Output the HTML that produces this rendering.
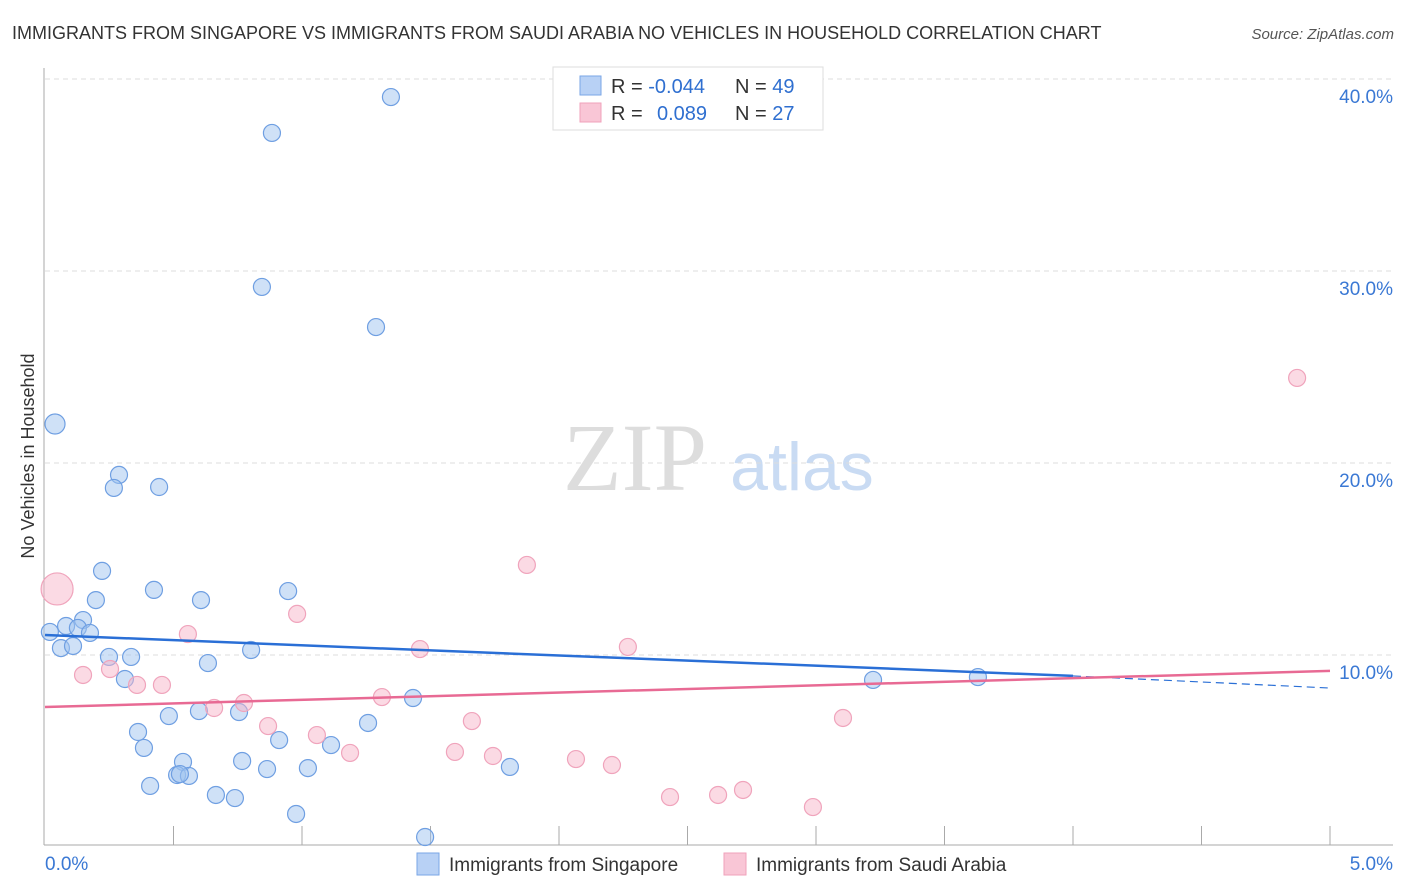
<!DOCTYPE html>
<html><head><meta charset="utf-8"><style>
body{margin:0;background:#fff;font-family:"Liberation Sans",sans-serif;}
svg{display:block}
</style></head><body>
<svg id="c" width="1406" height="892">
<text x="12" y="39" font-size="18" fill="#333">IMMIGRANTS FROM SINGAPORE VS IMMIGRANTS FROM SAUDI ARABIA NO VEHICLES IN HOUSEHOLD CORRELATION CHART</text>
<text x="1394" y="39" font-size="15" fill="#555" font-style="italic" text-anchor="end">Source: ZipAtlas.com</text>
<text x="635" y="490" font-size="96" fill="#ddd" font-family="Liberation Serif,serif" text-anchor="middle">ZIP</text>
<text x="802" y="490" font-size="68" fill="#c9dbf3" text-anchor="middle">atlas</text>
<text transform="translate(34,456) rotate(-90)" font-size="18" fill="#333" text-anchor="middle">No Vehicles in Household</text>
<g id="grid"></g><g id="pts"></g><g id="lines"></g>
<g>
<rect x="553" y="67" width="270" height="63" fill="#fff" stroke="#ddd"/>
<rect x="580" y="76" width="21" height="19" fill="#b8d1f5" stroke="#7aa6e6"/>
<rect x="580" y="103" width="21" height="19" fill="#f9c6d6" stroke="#f0a2bb"/>
<text x="611" y="93" font-size="20" fill="#333">R = <tspan fill="#2f6fd0">-0.044</tspan></text>
<text x="735" y="93" font-size="20" fill="#333">N = <tspan fill="#2f6fd0">49</tspan></text>
<text x="611" y="120" font-size="20" fill="#333">R = <tspan x="657" fill="#2f6fd0">0.089</tspan></text>
<text x="735" y="120" font-size="20" fill="#333">N = <tspan fill="#2f6fd0">27</tspan></text>
</g>
<g>
<rect x="417" y="853" width="22" height="22" fill="#b8d1f5" stroke="#7aa6e6"/>
<text x="449" y="871" font-size="19" fill="#333">Immigrants from Singapore</text>
<rect x="724" y="853" width="22" height="22" fill="#f9c6d6" stroke="#f0a2bb"/>
<text x="756" y="871" font-size="19" fill="#333">Immigrants from Saudi Arabia</text>
</g>
</svg>
<script>
const yTicks=[10,20,30,40];
const yTickLabels=["10.0%","20.0%","30.0%","40.0%"];
const xTickLabels=["0.0%","5.0%"];
const blueX=[1.346,.883,.844,1.288,.039,.288,.268,.444,.222,.424,.946,.198,.607,.148,.082,.128,.175,.019,.062,.109,.249,.335,.634,.802,.311,3.222,3.630,1.432,.482,.599,.755,1.257,.362,.911,.385,1.113,.767,.537,.514,.560,.864,1.023,1.809,.409,.665,.739,.977,1.479,.525];
const blueY=[39.06,37.19,29.17,27.08,22.03,19.38,18.70,18.75,14.38,13.39,13.33,12.86,12.86,11.82,11.51,11.41,11.15,11.20,10.36,10.47,9.90,9.90,9.58,10.26,8.75,8.70,8.85,7.76,6.82,7.08,7.03,6.46,5.99,5.57,5.16,5.31,4.48,4.43,3.75,3.70,4.06,4.11,4.17,3.18,2.71,2.55,1.72,0.52,3.80];
const pinkX=[.047,4.872,1.875,.981,.556,1.459,2.268,.148,.253,.358,.455,.774,.658,1.311,.868,1.661,3.105,1.058,1.187,1.595,1.743,2.066,2.206,2.716,2.619,2.432,2.988];
const pinkY=[13.44,24.43,14.69,12.14,11.09,10.31,10.42,8.96,9.27,8.44,8.44,7.50,7.24,7.81,6.30,6.56,6.72,5.83,4.90,4.95,4.74,4.58,4.27,2.97,2.71,2.60,2.08];
const pinkR=[16,8.5,8.5,8.5,8.5,8.5,8.5,8.5,8.5,8.5,8.5,8.5,8.5,8.5,8.5,8.5,8.5,8.5,8.5,8.5,8.5,8.5,8.5,8.5,8.5,8.5,8.5];
const blueR=[8.5,8.5,8.5,8.5,10,8.5,8.5,8.5,8.5,8.5,8.5,8.5,8.5,8.5,8.5,8.5,8.5,8.5,8.5,8.5,8.5,8.5,8.5,8.5,8.5,8.5,8.5,8.5,8.5,8.5,8.5,8.5,8.5,8.5,8.5,8.5,8.5,8.5,8.5,8.5,8.5,8.5,8.5,8.5,8.5,8.5,8.5,8.5,8.5];
const blueTrend=[11.04,8.91,8.28];
const blueTrendX=[0,4.0,5];
const pinkTrend=[7.29,9.17];
const NS="http://www.w3.org/2000/svg";
const sx=v=>45+v*257, sy=v=>847-v*19.2;
function mk(t,a,p){const e=document.createElementNS(NS,t);for(const k in a)e.setAttribute(k,a[k]);p.appendChild(e);return e;}
const grid=document.getElementById('grid');
yTicks.forEach((t,i)=>{
 const l=mk('line',{x1:45,x2:1393,y1:sy(t),y2:sy(t),stroke:'#ddd','stroke-dasharray':'5,4'},grid);
 
 
 const tx=mk('text',{x:1393,y:sy(t)+24,'font-size':19,fill:'#3a78d4','text-anchor':'end'},grid);
 tx.textContent=yTickLabels[i];
 
 
});
mk('line',{x1:44,x2:44,y1:68,y2:845,stroke:'#aaa'},grid);
mk('line',{x1:44,x2:1393,y1:845,y2:845,stroke:'#aaa'},grid);
for(let i=1;i<=10;i++){const l=mk('line',{x1:sx(i*0.5),x2:sx(i*0.5),y1:826,y2:845,stroke:'#aaa'},grid);
 
 }
const x0=mk('text',{x:45,y:870,'font-size':19,fill:'#3a78d4'},grid);x0.textContent=xTickLabels[0];


const x1=mk('text',{x:1393,y:870,'font-size':19,fill:'#3a78d4','text-anchor':'end'},grid);x1.textContent=xTickLabels[1];


const pts=document.getElementById('pts');
blueX.forEach((v,i)=>{const c=mk('circle',{cx:sx(v),cy:sy(blueY[i]),r:blueR[i],fill:'rgba(160,195,240,0.5)',stroke:'#6f9fe2','stroke-width':1.2},pts);
 
 });
pinkX.forEach((v,i)=>{const c=mk('circle',{cx:sx(v),cy:sy(pinkY[i]),r:pinkR[i],fill:'rgba(248,182,202,0.5)',stroke:'#f0a4bc','stroke-width':1.2},pts);
 
 });
const lines=document.getElementById('lines');
const b1=mk('line',{x1:sx(blueTrendX[0]),y1:sy(blueTrend[0]),x2:sx(blueTrendX[1]),y2:sy(blueTrend[1]),stroke:'#2a6fd6','stroke-width':2.5},lines);


const b2=mk('line',{x1:sx(blueTrendX[1]),y1:sy(blueTrend[1]),x2:sx(blueTrendX[2]),y2:sy(blueTrend[2]),stroke:'#2a6fd6','stroke-width':1.2,'stroke-dasharray':'8,5'},lines);


const p1=mk('line',{x1:sx(0),y1:sy(pinkTrend[0]),x2:sx(5),y2:sy(pinkTrend[1]),stroke:'#e86a94','stroke-width':2.5},lines);


</script>
</body></html>
